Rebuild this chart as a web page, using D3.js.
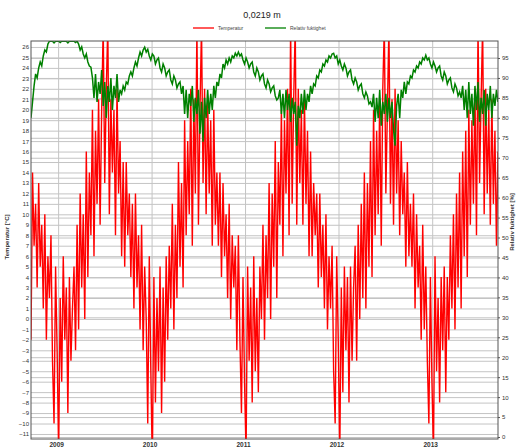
<!DOCTYPE html>
<html lang="sv">
<head>
<meta charset="UTF-8">
<title>0,0219 m</title>
<script src="https://cdn.jsdelivr.net/npm/d3@7"></script>
<style>
  body { margin: 0; background: #fff; }
  svg text { font-family: "Liberation Sans", Arial, sans-serif; }
</style>
</head>
<body>
<div id="chart"></div>
<script>
// sampling of the series: one value every 6 days from the start date
const startDate = new Date(2008, 8, 17);
const stepDays = 6;

// Temperatur [°C], one array per season (mid-Sep to mid-Sep)
const temp0809 = [-2, 14, 7, 11, 3, 13, 5, 9, 1, 10, -2, 6, 2, 8, -4, -10, 5, -3, -13, 2, -6, 6, -2, 3, -9, 4, -4, 1, 5, -3, 9, -1, 12, 3, 10, 0, 16, 4, 14, 8, 20, 6, 18, 11, 21, 9, 20, 28, 13, 22, 28, 10, 21, 14, 20, 8, 22, 12, 17, 6, 15];
const temp0910 = [5, 15, 8, 12, 4, 11, 1, 12, 3, 8, -1, 9, -3, 5, 0, -10, 6, -5, -14, 4, -8, 2, -5, 5, -9, 3, -6, 6, -2, 7, 1, 11, -1, 9, 2, 15, 5, 13, 3, 19, 8, 17, 10, 22, 7, 21, 12, 28, 9, 20, 28, 13, 22, 10, 21, 12, 19, 7, 20, 9, 14];
const temp1011 = [7, 14, 4, 13, 6, 10, 2, 11, 0, 8, 3, 7, -3, 8, -2, -9, 4, -6, -13, 5, -4, 3, -8, 6, -5, 2, -7, 5, 0, 9, -2, 8, 2, 13, 0, 12, 5, 17, 2, 15, 9, 20, 6, 19, 12, 22, 8, 28, 11, 21, 28, 9, 22, 13, 20, 9, 21, 11, 18, 6, 16];
const temp1112 = [6, 13, 8, 12, 3, 12, 4, 9, 1, 10, -1, 6, 1, 7, -5, -10, 6, -2, -13, 3, -7, 5, -3, 4, -8, 5, -4, 3, 7, -4, 9, 0, 11, 2, 14, 1, 13, 5, 17, 4, 20, 8, 18, 10, 21, 7, 22, 28, 12, 20, 28, 11, 21, 9, 22, 12, 19, 8, 17, 10, 14];
const temp1213 = [5, 15, 6, 11, 5, 12, 1, 10, 3, 7, -2, 9, -1, 5, -4, -10, 4, -6, -13, 6, -5, 2, -8, 4, -3, 5, -7, 4, -2, 8, 1, 10, -1, 12, 3, 14, 1, 16, 6, 18, 4, 20, 9, 19, 11, 22, 8, 28, 13, 21, 28, 10, 22, 12, 20, 9, 21, 11, 18, 7, 16];

// Relativ fuktighet [%], same sampling
const rh0809 = [80, 84, 88, 91, 90, 92.5, 94, 93, 95.5, 97, 96.5, 98.5, 99.2,
  99.2, 99.2, 98.8, 99.2, 99.2, 99.2, 98.9, 99.2, 99.2, 99.2, 99.2, 98.8, 99.2, 99.2, 99.2, 99.2, 98.9, 99.2,
  98.5, 97, 97.8, 96, 95, 96, 94, 93, 92.7,
  90, 85, 91, 84, 89, 86, 92, 83, 89, 80, 88, 84, 90, 82, 88, 85, 91, 84, 87, 86, 88];
const rh0910 = [87, 89, 88.5, 90.5, 91.5, 90.5, 92.5, 94, 93, 95, 96.5, 95.5, 97, 97.7,
  96.5, 97.2, 95.5, 94.5, 96, 95.5, 93.5, 94.5, 95, 92.5, 91.5, 93.5, 92.5, 90.5, 91.5, 92, 89.5, 88.5, 90.5, 89.5, 87.5, 88.5, 89, 86,
  88, 81, 87, 80, 86, 83, 88, 79, 85, 81, 87, 76, 84, 74, 85, 80, 87, 81, 86, 82, 88, 85, 89];
const rh1011 = [88, 91, 90, 93.5, 92.5, 94.5, 93.5, 95, 94, 95.5, 95, 96.2, 95.5, 96.5,
  95.5, 96, 94.5, 93.5, 95, 94, 92.5, 93.5, 94, 91.5, 90.5, 92.5, 91.5, 89.5, 90.5, 91, 88.5, 87.5, 89.5, 88.5, 86.5, 87.5, 88, 85.5, 84.5, 85,
  87, 81, 86, 80, 87, 82, 86, 79, 85, 81, 84, 73, 83, 80, 86, 81, 87, 82, 86, 84, 88];
const rh1112 = [86, 88.5, 88, 90.5, 90, 92, 91.5, 93.5, 93, 94.5, 94, 95.5, 95, 96, 96.2,
  95, 95.5, 93.5, 94.5, 93, 92, 93.5, 92.5, 90.5, 91.5, 92, 89.5, 88.5, 90, 89, 87, 88, 88.5, 86, 85, 86.5, 85.5, 83.5, 84, 82.7,
  86, 79, 85, 80, 87, 78, 84, 81, 86, 79, 85, 80, 84, 77, 73, 83, 86, 80, 87, 85, 89];
const rh1213 = [86, 89, 88.5, 90.5, 90, 92, 91.5, 93, 92.5, 94, 93.5, 95, 94.5, 95.7,
  94.5, 95, 93.5, 92.5, 94, 93, 91.5, 92.5, 93, 90.5, 89.5, 91.5, 90.5, 88.5, 89.5, 90, 87.5, 86.5, 88.5, 87.5, 85.5, 86.5, 85,
  88, 82, 87, 80, 89, 81, 86, 78, 88, 82, 89, 79, 85, 81, 87, 78, 86, 82, 88, 80, 86, 83, 87, 84];

// ticks
const years = [2009, 2010, 2011, 2012, 2013];
const tempTicks = [-11, -10, -9, -8, -7, -6, -5, -4, -3, -2, -1, 0, 1, 2, 3, 4, 5, 6, 7, 8, 9, 10, 11, 12, 13, 14, 15, 16, 17, 18, 19, 20, 21, 22, 23, 24, 25, 26];
const rhTicks = [0, 5, 10, 15, 20, 25, 30, 35, 40, 45, 50, 55, 60, 65, 70, 75, 80, 85, 90, 95];

const W = 517, H = 448;
const plot = {left: 31, right: 498, top: 41, bottom: 439};

const temps = [].concat(temp0809, temp0910, temp1011, temp1112, temp1213);
const rhs = [].concat(rh0809, rh0910, rh1011, rh1112, rh1213);
const dates = temps.map((_, i) => d3.timeDay.offset(startDate, i * stepDays));

const x = d3.scaleTime()
  .domain([new Date(2008, 8, 17), new Date(2013, 8, 15)])
  .range([plot.left, plot.right]);
const yT = d3.scaleLinear().domain([-11.48, 26.57]).range([plot.bottom, plot.top]);
const yR = d3.scaleLinear().domain([-0.5, 99.26]).range([plot.bottom, plot.top]);

const svg = d3.select("#chart").append("svg")
  .attr("width", W).attr("height", H);

svg.append("clipPath").attr("id", "clip")
  .append("rect")
    .attr("x", plot.left).attr("y", plot.top)
    .attr("width", plot.right - plot.left).attr("height", plot.bottom - plot.top);

// horizontal grid, left and right scales both
const gridL = svg.append("g")
  .attr("transform", `translate(${plot.left},0)`)
  .call(d3.axisLeft(yT).tickValues(tempTicks).tickSize(-(plot.right - plot.left)).tickFormat(""));
const gridR = svg.append("g")
  .attr("transform", `translate(${plot.left},0)`)
  .call(d3.axisLeft(yR).tickValues(rhTicks).tickSize(-(plot.right - plot.left)).tickFormat(""));
const gridX = svg.append("g")
  .attr("transform", `translate(0,${plot.bottom})`)
  .call(d3.axisBottom(x).tickValues(years.map(y => new Date(y, 0, 1))).tickSize(-(plot.bottom - plot.top)).tickFormat(""));
[gridL, gridR, gridX].forEach(g => {
  g.select(".domain").remove();
  g.selectAll("line").attr("stroke", "#c4c4c4").attr("stroke-width", 1);
});

// series
const lines = svg.append("g").attr("clip-path", "url(#clip)");
lines.append("path")
  .datum(temps)
  .attr("fill", "none")
  .attr("stroke", "#ff0000")
  .attr("stroke-width", 1.4)
  .attr("d", d3.line().x((d, i) => x(dates[i])).y(d => yT(d)));
lines.append("path")
  .datum(rhs)
  .attr("fill", "none")
  .attr("stroke", "#008000")
  .attr("stroke-width", 1.5)
  .attr("d", d3.line().x((d, i) => x(dates[i])).y(d => yR(d)));

// frame
svg.append("rect")
  .attr("x", plot.left).attr("y", plot.top)
  .attr("width", plot.right - plot.left).attr("height", plot.bottom - plot.top)
  .attr("fill", "none").attr("stroke", "#555").attr("stroke-width", 1);

// axes labels
const axL = svg.append("g")
  .attr("transform", `translate(${plot.left},0)`)
  .call(d3.axisLeft(yT).tickValues(tempTicks).tickSize(0).tickPadding(2));
const axR = svg.append("g")
  .attr("transform", `translate(${plot.right},0)`)
  .call(d3.axisRight(yR).tickValues(rhTicks).tickSize(2).tickPadding(2));
const axB = svg.append("g")
  .attr("transform", `translate(0,${plot.bottom})`)
  .call(d3.axisBottom(x).tickValues(years.map(y => new Date(y, 0, 1))).tickSize(0).tickPadding(3)
    .tickFormat(d3.timeFormat("%Y")));
[axL, axR, axB].forEach(g => {
  g.select(".domain").remove();
  g.selectAll("line").attr("stroke", "#555");
  g.selectAll("text").attr("font-size", 6).attr("fill", "#333")
    .style("font-family", "'Liberation Sans', Arial, sans-serif");
});
axB.selectAll("text").attr("font-weight", "bold").attr("font-size", 6.5).attr("dx", -2);

// axis titles
svg.append("text")
  .attr("transform", `translate(9,237) rotate(-90)`)
  .attr("text-anchor", "middle")
  .attr("font-size", 6).attr("font-weight", "bold").attr("fill", "#333")
  .text("Temperatur [°C]");
svg.append("text")
  .attr("transform", `translate(514,222) rotate(-90)`)
  .attr("text-anchor", "middle")
  .attr("font-size", 6).attr("font-weight", "bold").attr("fill", "#333")
  .text("Relativ fuktighet [%]");

// title
svg.append("text")
  .attr("x", 262).attr("y", 18)
  .attr("text-anchor", "middle")
  .attr("font-size", 9).attr("fill", "#222")
  .text("0,0219 m");

// legend
const legend = [
  {name: "Temperatur", color: "#ff0000", x: 193},
  {name: "Relativ fuktighet", color: "#008000", x: 265}
];
const lg = svg.append("g").selectAll("g").data(legend).join("g");
lg.append("line")
  .attr("x1", d => d.x).attr("x2", d => d.x + 21)
  .attr("y1", 28).attr("y2", 28)
  .attr("stroke", d => d.color).attr("stroke-width", 1.3);
lg.append("text")
  .attr("x", d => d.x + 25).attr("y", 30)
  .attr("font-size", 5).attr("fill", "#444")
  .text(d => d.name);
</script>
</body>
</html>
